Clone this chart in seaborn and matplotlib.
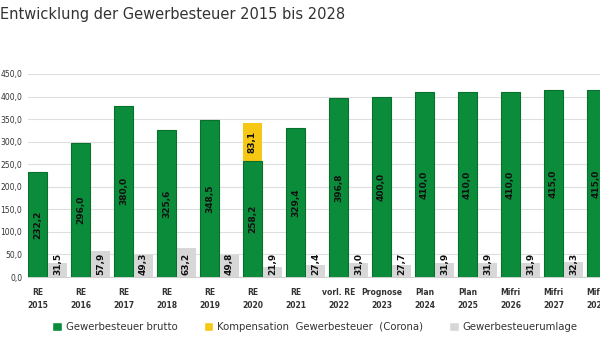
import numpy as np
import pandas as pd
import matplotlib
matplotlib.use("Agg")
import matplotlib.pyplot as plt
from matplotlib.patches import Patch
import seaborn as sns

# ---- data ----
cat_top = ["RE", "RE", "RE", "RE", "RE", "RE", "RE", "vorl. RE", "Prognose",
           "Plan", "Plan", "Mifri", "Mifri", "Mifri"]
years = ["2015", "2016", "2017", "2018", "2019", "2020", "2021", "2022", "2023",
         "2024", "2025", "2026", "2027", "2028"]
brutto = [232.2, 296.0, 380.0, 325.6, 348.5, 258.2, 329.4, 396.8, 400.0,
          410.0, 410.0, 410.0, 415.0, 415.0]
kompensation = [0, 0, 0, 0, 0, 83.1, 0, 0, 0, 0, 0, 0, 0, 0]
umlage = [31.5, 57.9, 49.3, 63.2, 49.8, 21.9, 27.4, 31.0, 27.7,
          31.9, 31.9, 31.9, 32.3, np.nan]
yticks = [0, 50, 100, 150, 200, 250, 300, 350, 400, 450]
legend_labels = ["Gewerbesteuer brutto", "Kompensation  Gewerbesteuer  (Corona)",
                 "Gewerbesteuerumlage"]
title = "Entwicklung der Gewerbesteuer 2015 bis 2028"

GREEN = "#0b8c3b"
GREEN_EDGE = "#06702c"
YELLOW = "#f6c813"
GRAY = "#d7d7d7"
TXT = "#333333"

sns.set_theme(style="white")
plt.rcParams["font.family"] = ["DejaVu Sans"]

n = len(years)
labels = [f"{a}\n{b}" for a, b in zip(cat_top, years)]
total = [b + k for b, k in zip(brutto, kompensation)]

df_tot = pd.DataFrame({"cat": labels * 2,
                       "series": ["Brutto"] * n + ["Umlage"] * n,
                       "value": total + [np.nan] * n})
df = pd.DataFrame({"cat": labels * 2,
                   "series": ["Brutto"] * n + ["Umlage"] * n,
                   "value": brutto + umlage})

fig = plt.figure(figsize=(6.0, 3.38), dpi=100)
ax = fig.add_axes([28 / 600, (338 - 277) / 338, 572 / 600, (277 - 74) / 338])

W = 0.93
GAP = 0.06
# total (brutto + compensation) in yellow, brutto in green drawn over it
sns.barplot(data=df_tot, x="cat", y="value", hue="series", hue_order=["Brutto", "Umlage"],
            palette=[YELLOW, GRAY], width=W, gap=GAP, dodge=True, legend=False,
            saturation=1, ax=ax, linewidth=0, zorder=2)
sns.barplot(data=df, x="cat", y="value", hue="series", hue_order=["Brutto", "Umlage"],
            palette=[GREEN, GRAY], width=W, gap=GAP, dodge=True, legend=False,
            saturation=1, ax=ax, linewidth=0, zorder=3)

# green bar edges
for p in ax.patches:
    fc = p.get_facecolor()
    if np.allclose(fc[:3], matplotlib.colors.to_rgb(GREEN), atol=0.01):
        p.set_edgecolor(GREEN_EDGE)
        p.set_linewidth(0.8)

off = W / 4
xs = np.arange(n)
# value labels
for i in range(n):
    ax.text(xs[i] - off, brutto[i] / 2, f"{brutto[i]:.1f}".replace(".", ","),
            rotation=90, ha="center", va="center", fontsize=6.5, color="#111111",
            fontweight="bold", zorder=5)
    if kompensation[i]:
        ax.text(xs[i] - off, brutto[i] + kompensation[i] / 2,
                f"{kompensation[i]:.1f}".replace(".", ","), rotation=90,
                ha="center", va="center", fontsize=6.5, color="#111111",
                fontweight="bold", zorder=5)
    if not np.isnan(umlage[i]):
        ax.text(xs[i] + off, 29, f"{umlage[i]:.1f}".replace(".", ","),
                rotation=90, ha="center", va="center", fontsize=6.5,
                color="#111111", fontweight="bold", zorder=5)

ax.set_ylim(0, 450)
ax.set_xlim(-0.4535, 12.85)
ax.set_yticks(yticks)
ax.set_yticklabels([f"{v:.1f}".replace(".", ",") for v in yticks],
                   fontsize=5.5, color=TXT)
ax.set_xticks(xs - off)
ax.set_xticklabels(labels, fontsize=5.5, color=TXT, fontweight="bold",
                   linespacing=1.5)
ax.tick_params(axis="x", length=0, pad=8)
ax.tick_params(axis="y", length=0, pad=4)
ax.grid(axis="y", color="#dedede", linewidth=0.8, zorder=0)
ax.set_axisbelow(True)
for s in ["top", "right", "left"]:
    ax.spines[s].set_visible(False)
ax.spines["bottom"].set_color("#cfcfcf")
ax.spines["bottom"].set_linewidth(0.8)
ax.set_xlabel("")
ax.set_ylabel("")

fig.text(0.0, 0.958, title, fontsize=10.5, color=TXT, ha="left", va="center")

handles = [Patch(facecolor=GREEN), Patch(facecolor=YELLOW), Patch(facecolor=GRAY)]
fig.legend(handles, legend_labels, loc="center", bbox_to_anchor=(0.525, 0.032),
           ncol=3, frameon=False, fontsize=7.3, handlelength=0.9, handleheight=0.9,
           handletextpad=0.4, columnspacing=2.6, labelcolor=TXT)

fig.savefig("out.png", dpi=100)
